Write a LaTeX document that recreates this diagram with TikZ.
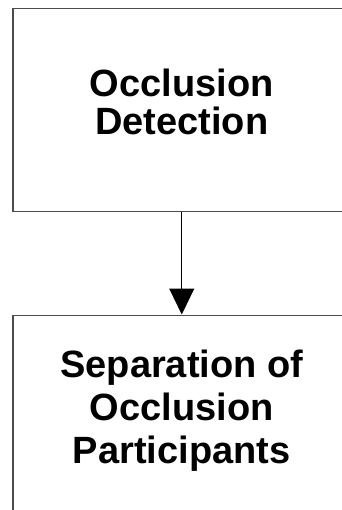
\documentclass[tikz,border=0pt]{standalone}
\usepackage{fontspec}
\setmainfont{Liberation Sans}
\usepackage{tikz}
\usetikzlibrary{arrows.meta,positioning}

\begin{document}
\begin{tikzpicture}[x=1pt,y=1pt,node distance=102pt,>={Triangle[width=25pt,length=26pt]}]
  \useasboundingbox (0,0) rectangle (341,-510);
  \node[draw=black!70,line width=1.5pt,minimum width=338pt,minimum height=203pt,
        align=center,font=\bfseries\fontsize{38}{38}\selectfont,text depth=18pt,
        anchor=north west] (detect) at (12,-8) {Occlusion\\Detection};
  \node[draw=black!70,line width=1.5pt,minimum width=338pt,minimum height=203pt,
        align=center,font=\bfseries\fontsize{38}{43}\selectfont,text depth=20pt,
        below=of detect] (separate) {Separation of\\Occlusion\\Participants};
  % flow from detection to separation
  \draw[->,line width=1pt] (detect) -- (separate);
\end{tikzpicture}
\end{document}
